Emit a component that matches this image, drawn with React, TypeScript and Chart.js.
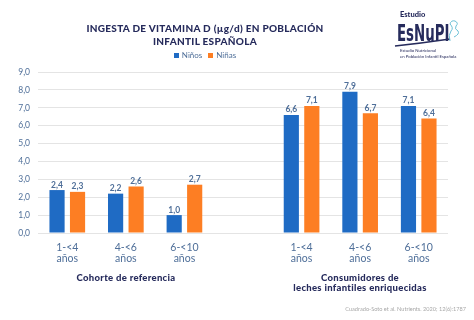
import React, { useEffect, useRef } from "react";
import { Chart, registerables } from "chart.js";

Chart.register(...registerables);

const categories: (string | string[])[] = [
  ["1-<4", "años"],
  ["4-<6", "años"],
  ["6-<10", "años"],
  "",
  ["1-<4", "años"],
  ["4-<6", "años"],
  ["6-<10", "años"],
];
const ninos: (number | null)[] = [2.4, 2.2, 1.0, null, 6.6, 7.9, 7.1];
const ninas: (number | null)[] = [2.3, 2.6, 2.7, null, 7.1, 6.7, 6.4];
const seriesNames = ["Niños", "Niñas"];
const groupTitles = [["Cohorte de referencia"], ["Consumidores de", "leches infantiles enriquecidas"]];
const titleLines = ["INGESTA DE VITAMINA D (µg/d) EN POBLACIÓN", "INFANTIL ESPAÑOLA"];
const sourceText = "Cuadrado-Soto et al. Nutrients. 2020; 12(6):1787";

const BLUE = "#1f6bc4";
const ORANGE = "#fd7e23";
const NAVY = "#262b5c";
const TICK = "#4f6f99";
const FONT = "Lato, 'Open Sans', sans-serif";

const fmt = (v: number) => v.toFixed(1).replace(".", ",");

const valueLabels = {
  id: "valueLabels",
  afterDatasetsDraw(chart: any) {
    const ctx = chart.ctx;
    ctx.save();
    ctx.font = `bold 8.5px ${FONT}`;
    ctx.fillStyle = TICK;
    ctx.textAlign = "center";
    ctx.textBaseline = "bottom";
    chart.data.datasets.forEach((ds: any, i: number) => {
      const meta = chart.getDatasetMeta(i);
      meta.data.forEach((el: any, j: number) => {
        const v = ds.data[j];
        if (v == null) return;
        ctx.fillText(fmt(v), el.x, el.y - 1);
      });
    });
    ctx.restore();
  },
};

export default function App() {
  const ref = useRef<HTMLCanvasElement>(null);
  useEffect(() => {
    if (!ref.current) return;
    const chart = new Chart(ref.current, {
      type: "bar",
      data: {
        labels: categories,
        datasets: [
          { label: seriesNames[0], data: ninos, backgroundColor: BLUE, categoryPercentage: 0.7, barPercentage: 0.74 },
          { label: seriesNames[1], data: ninas, backgroundColor: ORANGE, categoryPercentage: 0.7, barPercentage: 0.74 },
        ],
      },
      options: {
        animation: false,
        responsive: false,
        maintainAspectRatio: false,
        layout: { padding: { left: 0, right: 26, top: 72, bottom: 0 } },
        plugins: { legend: { display: false }, title: { display: false }, tooltip: { enabled: false } },
        scales: {
          x: {
            grid: { display: false, drawTicks: false },
            border: { display: false },
            ticks: { color: TICK, font: { family: FONT, size: 10.5, lineHeight: 1.05 }, padding: 9, maxRotation: 0, autoSkip: false },
            afterFit: (s: any) => { s.height = 87; },
          },
          y: {
            min: 0,
            max: 9,
            grid: { color: "#e4e4e4", drawTicks: false, lineWidth: 1 },
            border: { display: false },
            ticks: { stepSize: 1, color: TICK, font: { family: FONT, size: 8.5 }, padding: 8, callback: (v: any) => fmt(Number(v)) },
            afterFit: (s: any) => { s.width = 38; },
          },
        },
      },
      plugins: [valueLabels],
    });
    return () => chart.destroy();
  }, []);

  const abs = (s: React.CSSProperties): React.CSSProperties => ({ position: "absolute", fontFamily: FONT, ...s });

  return (
    <div style={{ position: "fixed", left: 0, top: 0, width: 474, height: 320, background: "#fff", overflow: "hidden" }}>
      <canvas ref={ref} width={474} height={320} style={{ position: "absolute", left: 0, top: 0 }} />
      <div style={abs({ left: 60, width: 290, top: 22, textAlign: "center", color: NAVY, fontWeight: 900, fontSize: 10, lineHeight: "13px", letterSpacing: 0.3 })}>
        {titleLines.map((t, i) => <div key={i}>{t}</div>)}
      </div>
      <div style={abs({ left: 60, width: 290, top: 50, textAlign: "center", color: TICK, fontSize: 8, lineHeight: "10px" })}>
        <span style={{ display: "inline-block", width: 5, height: 5, background: BLUE, marginRight: 3 }} />
        {seriesNames[0]}
        <span style={{ display: "inline-block", width: 5, height: 5, background: ORANGE, marginLeft: 6, marginRight: 3 }} />
        {seriesNames[1]}
      </div>
      <div style={abs({ left: 36, width: 180, top: 273, textAlign: "center", color: NAVY, fontWeight: 900, fontSize: 9.5, lineHeight: "10px", letterSpacing: 0.3 })}>
        {groupTitles[0].map((t, i) => <div key={i}>{t}</div>)}
      </div>
      <div style={abs({ left: 270, width: 180, top: 273, textAlign: "center", color: NAVY, fontWeight: 900, fontSize: 9.5, lineHeight: "10px", letterSpacing: 0.3 })}>
        {groupTitles[1].map((t, i) => <div key={i}>{t}</div>)}
      </div>
      <div style={abs({ right: 8, top: 305, color: "#a8a8a8", fontSize: 5.6, whiteSpace: "nowrap" })}>{sourceText}</div>
      <div style={abs({ left: 400, top: 11, color: NAVY, fontWeight: 900, fontSize: 7.5, lineHeight: "8px" })}>Estudio</div>
      <div style={abs({ left: 397, top: 21, color: NAVY, fontWeight: 700, fontSize: 23, lineHeight: "24px", fontFamily: "'DejaVu Sans', sans-serif", transform: "scaleX(0.58)", transformOrigin: "left top", whiteSpace: "nowrap" })}>EsNuPI</div>
      <svg style={{ position: "absolute", left: 390, top: 14 }} width={80} height={36}>
        <path d="M5 32 Q 33 29 60 25" stroke={NAVY} strokeWidth={1.6} fill="none" />
        <path d="M60 27 q -2 -6 1 -10 q 3 -3 -1 -7 q 1 -4 5 -3 q 4 2 1 5 q -2 3 2 5 q 2 3 -4 6" stroke="#6bbfd6" strokeWidth={1} fill="none" />
      </svg>
      <div style={abs({ left: 400, top: 48, color: NAVY, fontSize: 4.3, lineHeight: "5.5px", whiteSpace: "nowrap" })}>
        <div>Estudio Nutricional</div>
        <div>en Población Infantil Española</div>
      </div>
    </div>
  );
}
